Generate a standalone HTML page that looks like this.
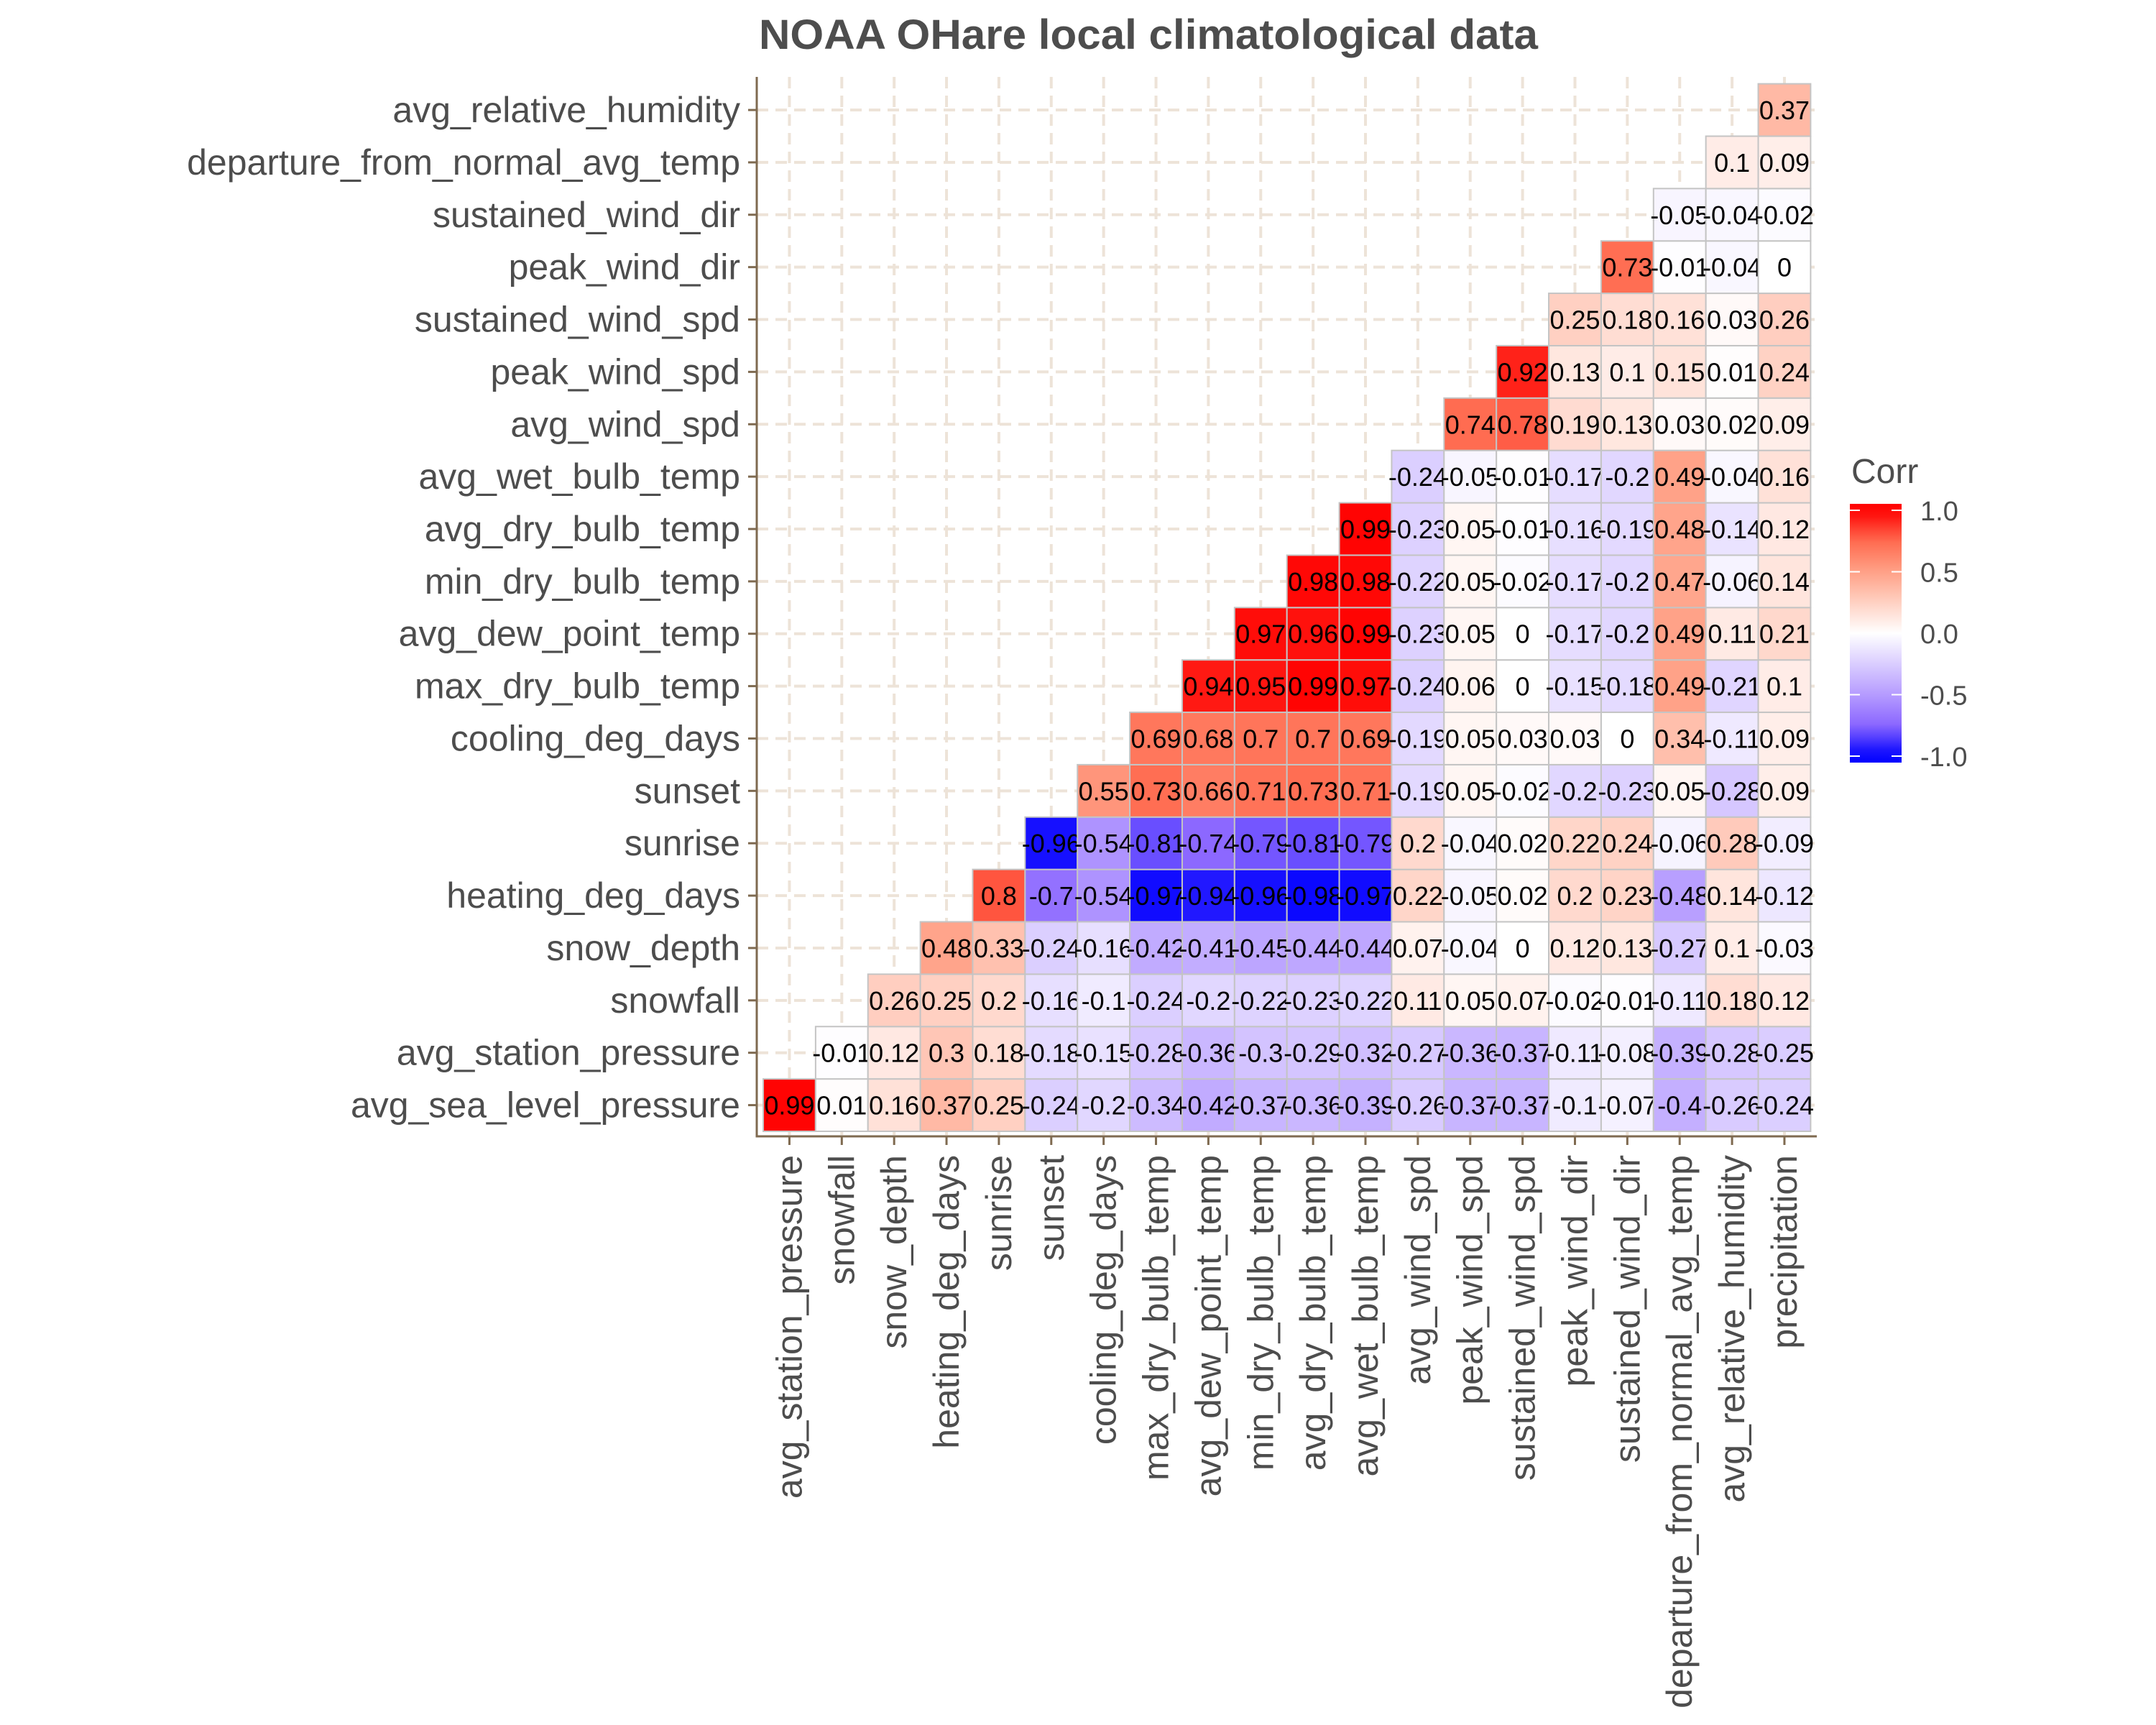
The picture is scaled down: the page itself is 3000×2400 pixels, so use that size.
<!DOCTYPE html>
<html><head><meta charset="utf-8"><style>
html,body{margin:0;padding:0;background:#fff;}
svg{display:block;font-family:"Liberation Sans",Arial,sans-serif;}
</style></head><body>
<svg id="chart" width="3000" height="2400" viewBox="0 0 3000 2400" xmlns="http://www.w3.org/2000/svg">
<rect x="0" y="0" width="3000" height="2400" fill="#ffffff"/>
<text x="1056" y="68" font-size="58" font-weight="bold" fill="#4D4D4D" textLength="1084" lengthAdjust="spacingAndGlyphs">NOAA OHare local climatological data</text>
<g id="grid"></g><g id="cells"></g><g id="axes"></g><g id="legend"></g>
</svg>
<script>
const yVars = ["avg_sea_level_pressure","avg_station_pressure","snowfall","snow_depth","heating_deg_days","sunrise","sunset","cooling_deg_days","max_dry_bulb_temp","avg_dew_point_temp","min_dry_bulb_temp","avg_dry_bulb_temp","avg_wet_bulb_temp","avg_wind_spd","peak_wind_spd","sustained_wind_spd","peak_wind_dir","sustained_wind_dir","departure_from_normal_avg_temp","avg_relative_humidity"];
const xVars = ["avg_station_pressure","snowfall","snow_depth","heating_deg_days","sunrise","sunset","cooling_deg_days","max_dry_bulb_temp","avg_dew_point_temp","min_dry_bulb_temp","avg_dry_bulb_temp","avg_wet_bulb_temp","avg_wind_spd","peak_wind_spd","sustained_wind_spd","peak_wind_dir","sustained_wind_dir","departure_from_normal_avg_temp","avg_relative_humidity","precipitation"];
// each row i starts at column i
const row0 = [0.99,0.01,0.16,0.37,0.25,-0.24,-0.2,-0.34,-0.42,-0.37,-0.36,-0.39,-0.26,-0.37,-0.37,-0.1,-0.07,-0.4,-0.26,-0.24];
const row1 = [-0.01,0.12,0.3,0.18,-0.18,-0.15,-0.28,-0.36,-0.3,-0.29,-0.32,-0.27,-0.36,-0.37,-0.11,-0.08,-0.39,-0.28,-0.25];
const row2 = [0.26,0.25,0.2,-0.16,-0.1,-0.24,-0.2,-0.22,-0.23,-0.22,0.11,0.05,0.07,-0.02,-0.01,-0.11,0.18,0.12];
const row3 = [0.48,0.33,-0.24,-0.16,-0.42,-0.41,-0.45,-0.44,-0.44,0.07,-0.04,0,0.12,0.13,-0.27,0.1,-0.03];
const row4 = [0.8,-0.7,-0.54,-0.97,-0.94,-0.96,-0.98,-0.97,0.22,-0.05,0.02,0.2,0.23,-0.48,0.14,-0.12];
const row5 = [-0.96,-0.54,-0.81,-0.74,-0.79,-0.81,-0.79,0.2,-0.04,0.02,0.22,0.24,-0.06,0.28,-0.09];
const row6 = [0.55,0.73,0.66,0.71,0.73,0.71,-0.19,0.05,-0.02,-0.2,-0.23,0.05,-0.28,0.09];
const row7 = [0.69,0.68,0.7,0.7,0.69,-0.19,0.05,0.03,0.03,0,0.34,-0.11,0.09];
const row8 = [0.94,0.95,0.99,0.97,-0.24,0.06,0,-0.15,-0.18,0.49,-0.21,0.1];
const row9 = [0.97,0.96,0.99,-0.23,0.05,0,-0.17,-0.2,0.49,0.11,0.21];
const row10 = [0.98,0.98,-0.22,0.05,-0.02,-0.17,-0.2,0.47,-0.06,0.14];
const row11 = [0.99,-0.23,0.05,-0.01,-0.16,-0.19,0.48,-0.14,0.12];
const row12 = [-0.24,-0.05,-0.01,-0.17,-0.2,0.49,-0.04,0.16];
const row13 = [0.74,0.78,0.19,0.13,0.03,0.02,0.09];
const row14 = [0.92,0.13,0.1,0.15,0.01,0.24];
const row15 = [0.25,0.18,0.16,0.03,0.26];
const row16 = [0.73,-0.01,-0.04,0];
const row17 = [-0.05,-0.04,-0.02];
const row18 = [0.1,0.09];
const row19 = [0.37];
const rows = [row0,row1,row2,row3,row4,row5,row6,row7,row8,row9,row10,row11,row12,row13,row14,row15,row16,row17,row18,row19];
const legendTicks = [1.0,0.5,0.0,-0.5,-1.0];
const legendTickLabels = ["1.0","0.5","0.0","-0.5","-1.0"];

const NS="http://www.w3.org/2000/svg";
const CELL=72.87, X0=1062, YB=1574;
const xScale = j => X0 + CELL*(j+0.5);
const yScale = i => YB - CELL*(i+0.5);
const legY = v => 881 - v*171;
function mk(tag, attrs, parent){const e=document.createElementNS(NS,tag);for(const k in attrs)e.setAttribute(k,attrs[k]);parent.appendChild(e);return e;}
const redStops=[[255,255,255],[255,208,194],[255,160,134],[255,106,79],[255,0,0]];
const blueStops=[[255,255,255],[218,205,255],[181,155,255],[138,102,255],[0,0,255]];
function color(v){const s=v>=0?redStops:blueStops;let t=Math.min(1,Math.abs(v))*4;let k=Math.min(3,Math.floor(t));let f=t-k;const a=s[k],b=s[k+1];
 return "rgb("+a.map((c,i)=>Math.round(c+(b[i]-c)*f)).join(",")+")";}

const grid=document.getElementById('grid'), cells=document.getElementById('cells'), axes=document.getElementById('axes'), legend=document.getElementById('legend');
const PL=1053, PR=2528, PT=107, PB=1581;
xVars.forEach((n,j)=>{const l=mk('line',{x1:xScale(j),x2:xScale(j),y1:PT,y2:PB,stroke:'#EDE3D8','stroke-width':4,'stroke-dasharray':'16 10'},grid);
 
 });
yVars.forEach((n,i)=>{const l=mk('line',{x1:PL,x2:PR,y1:yScale(i),y2:yScale(i),stroke:'#EDE3D8','stroke-width':4,'stroke-dasharray':'16 10'},grid);
 
 });

rows.forEach((r,i)=>{r.forEach((v,k)=>{const j=i+k;
 const g=mk('g',{},cells);
 
 
 mk('rect',{x:xScale(j)-CELL/2,y:yScale(i)-CELL/2,width:CELL,height:CELL,fill:color(v),stroke:'#C4C4C4','stroke-width':2},g);
 const t=mk('text',{x:xScale(j),y:yScale(i)+13,'text-anchor':'middle','font-size':36,fill:'#000'},g);
 t.textContent=String(v);});});

// axes
const al=mk('line',{x1:PL,x2:PL,y1:PT,y2:PB+1.5,stroke:'#7F6A50','stroke-width':3},axes);


const ab=mk('line',{x1:PL-1.5,x2:PR,y1:PB,y2:PB,stroke:'#7F6A50','stroke-width':3},axes);


yVars.forEach((n,i)=>{mk('line',{x1:PL-12,x2:PL,y1:yScale(i),y2:yScale(i),stroke:'#7F6A50','stroke-width':3},axes);
 const t=mk('text',{x:1030,y:yScale(i)+17,'text-anchor':'end','font-size':50,fill:'#4D4D4D'},axes);
 
 
 t.textContent=n;});
xVars.forEach((n,j)=>{mk('line',{x1:xScale(j),x2:xScale(j),y1:PB,y2:PB+12,stroke:'#7F6A50','stroke-width':3},axes);
 const x=xScale(j)+17, y=1607;
 const t=mk('text',{x:x,y:y,'text-anchor':'end','font-size':50,fill:'#4D4D4D',transform:'rotate(-90 '+x+' '+y+')'},axes);
 
 
 t.textContent=n;});

// legend
const lt=mk('text',{x:2576,y:672,'font-size':48,fill:'#4D4D4D'},legend);


lt.textContent='Corr';
const defs=mk('defs',{},legend);
const lg=mk('linearGradient',{id:'lg',x1:0,y1:0,x2:0,y2:1},defs);
for(let s=0;s<=20;s++){const v=1.05-2.1*s/20;mk('stop',{offset:(s/20),'stop-color':color(v)},lg);}
const bar=mk('rect',{x:2574,y:701,width:72,height:360,fill:'url(#lg)'},legend);


legendTicks.forEach((v,k)=>{
 mk('line',{x1:2574,x2:2588,y1:legY(v),y2:legY(v),stroke:'#fff','stroke-width':2},legend);
 mk('line',{x1:2632,x2:2646,y1:legY(v),y2:legY(v),stroke:'#fff','stroke-width':2},legend);
 const t=mk('text',{x:2672,y:legY(v)+14,'font-size':38,fill:'#4D4D4D'},legend);
 
 
 t.textContent=legendTickLabels[k];});
</script>
</body></html>
